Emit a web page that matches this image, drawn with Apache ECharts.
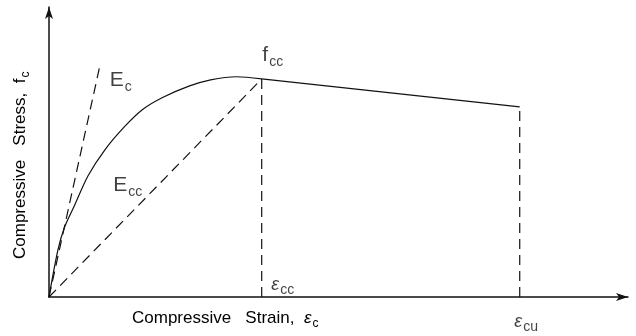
<!DOCTYPE html>
<html>
<head>
<meta charset="utf-8">
<script src="https://cdn.jsdelivr.net/npm/echarts@6/dist/echarts.min.js"></script>
<style>
  html, body { margin: 0; padding: 0; background: #fff; }
  #main { width: 636px; height: 336px; }
</style>
</head>
<body>
<div id="main"></div>
<script>
// strain normalised by eps_cc, stress normalised by f_cc
const risingBranch = [
  [0, 0], [0.042, 0.216], [0.074, 0.322], [0.121, 0.422], [0.183, 0.555],
  [0.262, 0.674], [0.355, 0.781], [0.440, 0.860], [0.534, 0.915],
  [0.661, 0.968], [0.760, 0.996], [0.882, 1.010], [1.0, 1.0]
];
const fallingBranch = [[1.0, 1.0], [2.213, 0.872]];
const ecLine = [[0, 0], [0.240, 1.064]];
const eccLine = [[0, 0], [1.0, 1.0]];
const epsCcDrop = [[1.0, 0], [1.0, 1.0]];
const epsCuDrop = [[2.213, 0], [2.213, 0.872]];

const labelNames = ['Ec', 'Ecc', 'fcc', 'epsCc', 'epsCu'];
const labelPos = [[0.337, 0.995], [0.370, 0.514], [1.052, 1.110], [1.099, 0.064], [2.243, -0.106]];
const labelTexts = [
  '{b|E}{s|c}',
  '{b|E}{s|cc}',
  '{b|f}{s|cc}',
  '{e|\u03b5}{s|cc}',
  '{e|\u03b5}{s|cu}'
];

const xMax = 2.722;
const yMax = 1.330;

const ink = '#111';
const fam = '"Liberation Sans", Arial, sans-serif';

const rich = {
  b: { fontSize: 21, fontFamily: fam, color: ink, lineHeight: 22, verticalAlign: 'bottom' },
  e: { fontSize: 18, fontFamily: fam, color: ink, lineHeight: 22, verticalAlign: 'bottom', fontStyle: 'italic' },
  s: { fontSize: 14, fontFamily: fam, color: ink, lineHeight: 22, verticalAlign: 'bottom', padding: [0, 0, -3, 1] },
  t: { fontSize: 17, fontFamily: fam, color: ink, lineHeight: 20, verticalAlign: 'bottom' },
  te: { fontSize: 17, fontFamily: fam, color: ink, lineHeight: 20, verticalAlign: 'bottom', fontStyle: 'italic' },
  ts: { fontSize: 12, fontFamily: fam, color: ink, lineHeight: 20, verticalAlign: 'bottom', padding: [0, 0, -3, 1] }
};

const chart = echarts.init(document.getElementById('main'));

function dashed(data) {
  return {
    type: 'line',
    data: data,
    symbol: 'none',
    silent: true,
    lineStyle: { color: ink, width: 1.2, type: [10, 6] }
  };
}

chart.setOption({
  backgroundColor: '#fff',
  animation: false,
  grid: { left: 49, right: 8, top: 7, bottom: 39 },
  xAxis: {
    type: 'value',
    min: 0,
    max: xMax,
    axisLine: { onZero: false, symbol: ['none', 'arrow'], symbolSize: [6, 12], lineStyle: { color: ink, width: 1.5 } },
    axisTick: { show: false },
    axisLabel: { show: false },
    splitLine: { show: false }
  },
  yAxis: {
    type: 'value',
    min: 0,
    max: yMax,
    axisLine: { onZero: false, symbol: ['none', 'arrow'], symbolSize: [6, 12], lineStyle: { color: ink, width: 1.5 } },
    axisTick: { show: false },
    axisLabel: { show: false },
    splitLine: { show: false }
  },
  graphic: [
    {
      type: 'text',
      left: 132,
      top: 310,
      style: {
        text: '{t|Compressive   Strain,  }{te|\u03b5}{ts|c}',
        rich: rich
      }
    },
    {
      type: 'text',
      x: 9,
      y: 259,
      rotation: Math.PI / 2,
      style: {
        text: '{t|Compressive   Stress,  f}{ts|c}',
        rich: rich
      }
    }
  ],
  series: [
    {
      type: 'line',
      data: risingBranch,
      symbol: 'none',
      silent: true,
      smooth: 0.3,
      lineStyle: { color: ink, width: 1.2 }
    },
    {
      type: 'line',
      data: fallingBranch,
      symbol: 'none',
      silent: true,
      lineStyle: { color: ink, width: 1.2 }
    },
    dashed(ecLine),
    dashed(eccLine),
    dashed(epsCcDrop),
    dashed(epsCuDrop),
    {
      type: 'scatter',
      clip: false,
      silent: true,
      symbolSize: 0,
      data: labelPos.map((p, i) => ({ name: labelNames[i], value: p })),
      label: {
        show: true,
        position: 'inside',
        formatter: p => labelTexts[p.dataIndex],
        rich: rich
      }
    }
  ]
});
</script>
</body>
</html>
